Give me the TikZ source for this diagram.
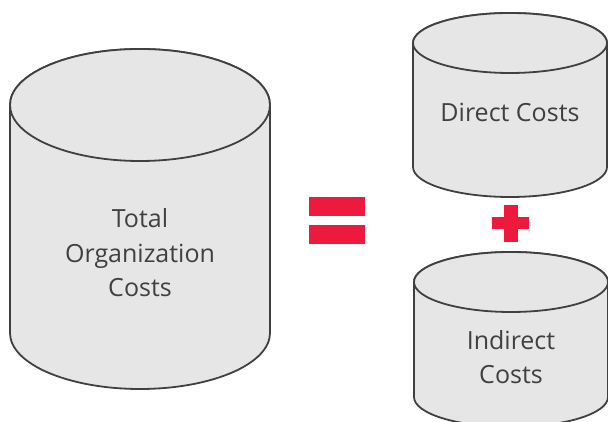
\documentclass[tikz,border=0pt]{standalone}
\usepackage{fontspec}
\setmainfont{Open Sans}
\usetikzlibrary{positioning}
\definecolor{drumfill}{HTML}{E6E6E6}
\definecolor{drumline}{HTML}{404040}
\definecolor{signred}{HTML}{EE1A3D}

% cylinder: centre x, top centre y, bottom centre y, x radius, y radius
\newcommand{\costdrum}[5]{%
  \filldraw[drum] (#1-#4,#2) -- (#1-#4,#3)
    arc[start angle=180, end angle=360, x radius=#4pt, y radius=#5pt]
    -- (#1+#4,#2)
    arc[start angle=0, end angle=180, x radius=#4pt, y radius=#5pt] -- cycle;
  \draw[drum] (#1,#2) ellipse[x radius=#4pt, y radius=#5pt];
}

\begin{document}
\begin{tikzpicture}[x=1pt, y=1pt,
    drum/.style={draw=drumline, fill=drumfill, line width=1.8pt},
    label/.style={align=center, text=drumline, font=\fontsize{25}{34.5}\selectfont},
    sign/.style={fill=signred, inner sep=0pt, minimum width=#1}]
    \useasboundingbox (0,0) rectangle (608,422);

    % the three cylinders
    \costdrum{140}{317}{89}{130}{56}
    \costdrum{510}{379}{255}{97}{30}
    \costdrum{511}{140}{25}{97}{30}

    % texts
    \node[label] (total) at (140,169) {Total\\Organization\\Costs};
    \node[label] (direct) at (510,309.5) {Direct Costs};
    \node[label] (indirect) at (511,65) {Indirect\\Costs};

    % equals sign
    \node[sign=56pt, minimum height=19pt] (eqtop) at (337,215.5) {};
    \node[sign=56pt, minimum height=19pt, below=9pt of eqtop] (eqbot) {};

    % plus sign
    \node[sign=37pt, minimum height=12pt] (plush) at (510.5,198.5) {};
    \node[sign=14pt, minimum height=37pt] (plusv) at (plush) {};
\end{tikzpicture}
\end{document}
